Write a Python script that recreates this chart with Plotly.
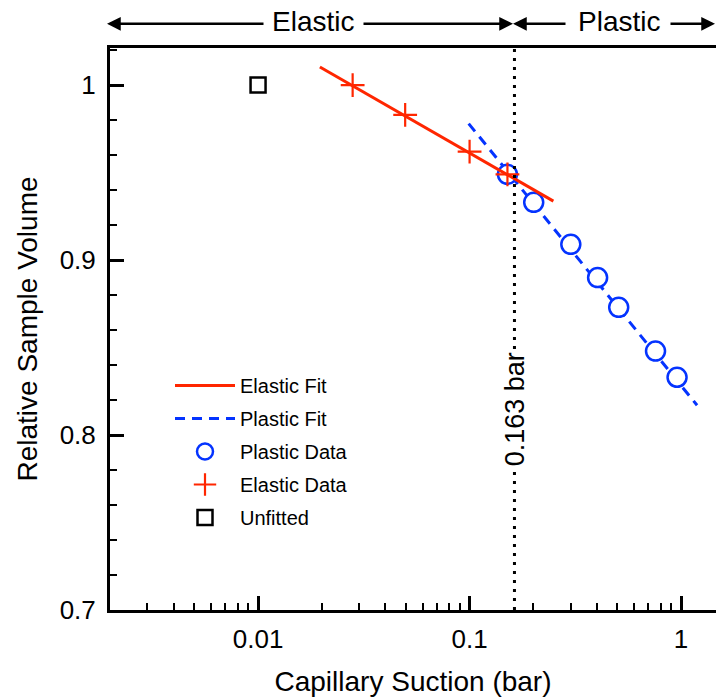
import math
import plotly.graph_objects as go

# ---- data ----
unfitted_x = [0.01]
unfitted_y = [1.0]

elastic_x = [0.028, 0.0496, 0.1, 0.151]
elastic_y = [1.000, 0.983, 0.962, 0.949]

plastic_x = [0.151, 0.201, 0.301, 0.403, 0.507, 0.757, 0.957]
plastic_y = [0.949, 0.933, 0.909, 0.890, 0.873, 0.848, 0.833]

elastic_fit_x = [0.0196, 0.249]
elastic_fit_y = [1.0103, 0.9337]

plastic_fit_x = [0.099, 1.19]
plastic_fit_y = [0.978, 0.817]

yield_suction = 0.163
y_range = [0.7, 1.0212]

x_tickvals = [0.01, 0.1, 1]
x_ticktext = ["0.01", "0.1", "1"]
x_minor = [m * 10.0 ** e for e in (-3, -2, -1, 0) for m in range(2, 10)]

RED = "#FF2600"
BLUE = "#0433FF"
FONT = "Liberation Sans, Arial, Helvetica, sans-serif"

fig = go.Figure()

fig.add_trace(go.Scatter(
    x=plastic_fit_x, y=plastic_fit_y, mode="lines", name="Plastic Fit",
    line=dict(color=BLUE, width=3, dash="10px,7px"), legendrank=2,
    legendgroup="g2"))
fig.add_trace(go.Scatter(
    x=plastic_x, y=plastic_y, mode="markers", name="Plastic Data",
    marker=dict(symbol="circle", size=19, color="white",
                line=dict(color=BLUE, width=2.5)), legendrank=3,
    legendgroup="g3"))
fig.add_trace(go.Scatter(
    x=elastic_fit_x, y=elastic_fit_y, mode="lines", name="Elastic Fit",
    line=dict(color=RED, width=3), legendrank=1, legendgroup="g1"))
fig.add_trace(go.Scatter(
    x=elastic_x, y=elastic_y, mode="markers", name="Elastic Data",
    marker=dict(symbol="cross-thin", size=17, color=RED,
                line=dict(color=RED, width=2.2)), legendrank=4,
    legendgroup="g4"))
fig.add_trace(go.Scatter(
    x=unfitted_x, y=unfitted_y, mode="markers", name="Unfitted",
    marker=dict(symbol="square-open", size=15, color="black",
                line=dict(color="black", width=2.5)), legendrank=5,
    legendgroup="g5"))
fig.add_trace(go.Scatter(
    x=[yield_suction, yield_suction], y=y_range, mode="lines",
    line=dict(color="black", width=3, dash="3px,6px"), showlegend=False,
    hoverinfo="skip"))

annotations = [
    dict(x=math.log10(yield_suction), y=0.815, xref="x", yref="y",
         text="%.3f bar" % yield_suction, showarrow=False, textangle=-90,
         xanchor="center", yanchor="middle",
         bgcolor="white", font=dict(size=27, family=FONT, color="black")),
    dict(x=(313 - 110) / 606, y=1.048, xref="paper", yref="paper",
         text="Elastic", showarrow=False, xanchor="center", yanchor="middle",
         font=dict(size=28, family=FONT, color="black")),
    dict(x=(619 - 110) / 606, y=1.048, xref="paper", yref="paper",
         text="Plastic", showarrow=False, xanchor="center", yanchor="middle",
         font=dict(size=28, family=FONT, color="black")),
]

arrow_defs = [  # (tip_px, tail_px)
    (107, 265), (513, 362), (513, 567), (715, 669)]
for tip, tail in arrow_defs:
    annotations.append(dict(
        x=(tip - 110) / 606, y=1.043, xref="paper", yref="paper",
        text="", showarrow=True, ax=tail - tip, ay=0, axref="pixel",
        arrowhead=2, arrowsize=1.1, arrowwidth=2.5, arrowcolor="black",
        standoff=0, startstandoff=0))

fig.update_layout(
    width=716, height=700,
    margin=dict(l=110, r=0, t=48, b=90, autoexpand=False),
    paper_bgcolor="white", plot_bgcolor="white",
    font=dict(family=FONT, color="black", size=20),
    showlegend=True,
    legend=dict(x=(170 - 110) / 606, y=(610 - 366) / 562,
                xanchor="left", yanchor="top", bgcolor="rgba(0,0,0,0)",
                font=dict(size=20, family=FONT), itemwidth=60,
                tracegroupgap=4, traceorder="grouped"),
    annotations=annotations,
    xaxis=dict(
        type="log", range=[-2.70, 0.165], automargin=False,
        tickvals=x_tickvals, ticktext=x_ticktext,
        ticks="inside", ticklen=14, tickwidth=2.5, tickcolor="black",
        showline=True, linecolor="black", linewidth=3, mirror=True,
        showgrid=False, zeroline=False,
        tickfont=dict(size=26, family=FONT),
        ticklabelstandoff=4,
        minor=dict(tickvals=x_minor, ticks="inside", ticklen=7,
                   tickwidth=1.5, tickcolor="black", showgrid=False),
        title=dict(text="Capillary Suction (bar)", standoff=19,
                   font=dict(size=28, family=FONT))),
    yaxis=dict(
        range=y_range, tickvals=[0.7, 0.8, 0.9, 1.0], automargin=False,
        ticktext=["0.7", "0.8", "0.9", "1"],
        ticks="inside", ticklen=14, tickwidth=2.5, tickcolor="black",
        showline=True, linecolor="black", linewidth=3, mirror=False,
        showgrid=False, zeroline=False,
        tickfont=dict(size=26, family=FONT),
        ticklabelstandoff=6,
        minor=dict(dtick=0.02, tick0=0.7, ticks="inside", ticklen=7,
                   tickwidth=1.5, tickcolor="black", showgrid=False),
        title=dict(text="Relative Sample Volume", standoff=14,
                   font=dict(size=28, family=FONT))),
)

fig.write_html(
    "out.html",
    config={"displayModeBar": False},
    post_script="document.body.style.margin='0';"
                "document.body.style.overflow='hidden';")
